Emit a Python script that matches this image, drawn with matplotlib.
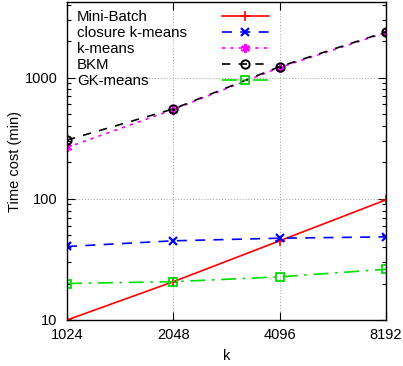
import matplotlib

matplotlib.use("Agg")
import matplotlib.pyplot as plt
from matplotlib.ticker import FixedLocator, NullLocator, LogLocator, FixedFormatter, NullFormatter

plt.rcParams["font.family"] = ["Liberation Sans", "DejaVu Sans"]
plt.rcParams["font.size"] = 10.5

k = [1024, 2048, 4096, 8192]
k_labels = ["1024", "2048", "4096", "8192"]
mini_batch = [10.0, 20.7, 45.0, 98.0]
closure = [40.4, 45.0, 47.3, 48.5]
kmeans = [265, 545, 1210, 2350]
bkm = [305, 551, 1230, 2380]
gk_means = [20.0, 20.7, 22.7, 26.2]

GREEN = "#00dd00"
fig = plt.figure(figsize=(4.03, 3.66), dpi=100)
ax = fig.add_axes([0.1663, 0.1257, 0.7915, 0.8688])

lw = 1.2
h1, = ax.plot(k, mini_batch, color="red", lw=lw, marker="+", ms=6.5, mew=1.2,
              label="Mini-Batch")
h2, = ax.plot(k, closure, color="blue", lw=lw, ls=(0, (6, 5)), marker="x", ms=5.5,
              mew=1.6, label="closure k-means")
h3, = ax.plot(k, kmeans, color="magenta", lw=lw, ls=(0, (2, 3)),
              marker=(6, 2, 0), ms=6.5, mew=1.4, label="k-means")
h4, = ax.plot(k, bkm, color="black", lw=lw, ls=(0, (5, 5)), marker="o", ms=6,
              mfc="none", mew=1.4, label="BKM")
ax.plot(k, bkm, ls="none", marker=".", ms=2.5, color="black")
h5, = ax.plot(k, gk_means, color=GREEN, lw=lw, ls=(0, (9, 4, 1.5, 4)), marker="s",
              ms=5.5, mfc="none", mew=1.3, label="GK-means")

ax.set_xscale("log", base=2)
ax.set_yscale("log")
ax.set_xlim(1024, 8192)
ax.set_ylim(10, 4200)

ax.xaxis.set_major_locator(FixedLocator(k))
ax.xaxis.set_major_formatter(FixedFormatter(k_labels))
ax.xaxis.set_minor_locator(NullLocator())
ax.yaxis.set_major_locator(FixedLocator([10, 100, 1000]))
ax.yaxis.set_major_formatter(FixedFormatter(["10", "100", "1000"]))
ax.yaxis.set_minor_locator(LogLocator(base=10, subs=range(2, 10)))
ax.yaxis.set_minor_formatter(NullFormatter())

ax.tick_params(which="both", direction="in", top=True, right=True, width=0.8)
ax.tick_params(which="major", length=6)
ax.tick_params(which="minor", length=3)
ax.tick_params(axis="y", pad=7)
ax.tick_params(axis="x", pad=6)
ax.grid(True, which="major", ls=(0, (1, 2)), color="#a0a0a0", lw=0.7)
for s in ax.spines.values():
    s.set_linewidth(1.0)

ax.set_xlabel("k", labelpad=5)
ax.set_ylabel("Time cost (min)", labelpad=2)

handles = [h1, h2, h3, h4, h5]
leg1 = ax.legend(handles, [h.get_label() for h in handles], loc="upper left",
                 bbox_to_anchor=(0.031, 0.975), frameon=False, handlelength=0,
                 handletextpad=0, borderpad=0, labelspacing=0.14,
                 borderaxespad=0, fontsize=10.8)
for h in leg1.legend_handles:
    h.set_visible(False)
ax.add_artist(leg1)
ax.legend(handles, [""] * 5, loc="upper left", bbox_to_anchor=(0.486, 0.975),
          frameon=False, handlelength=3.1, handletextpad=0, borderpad=0,
          labelspacing=0.14, borderaxespad=0, numpoints=1, fontsize=10.8)

fig.savefig("out.png", dpi=100)
